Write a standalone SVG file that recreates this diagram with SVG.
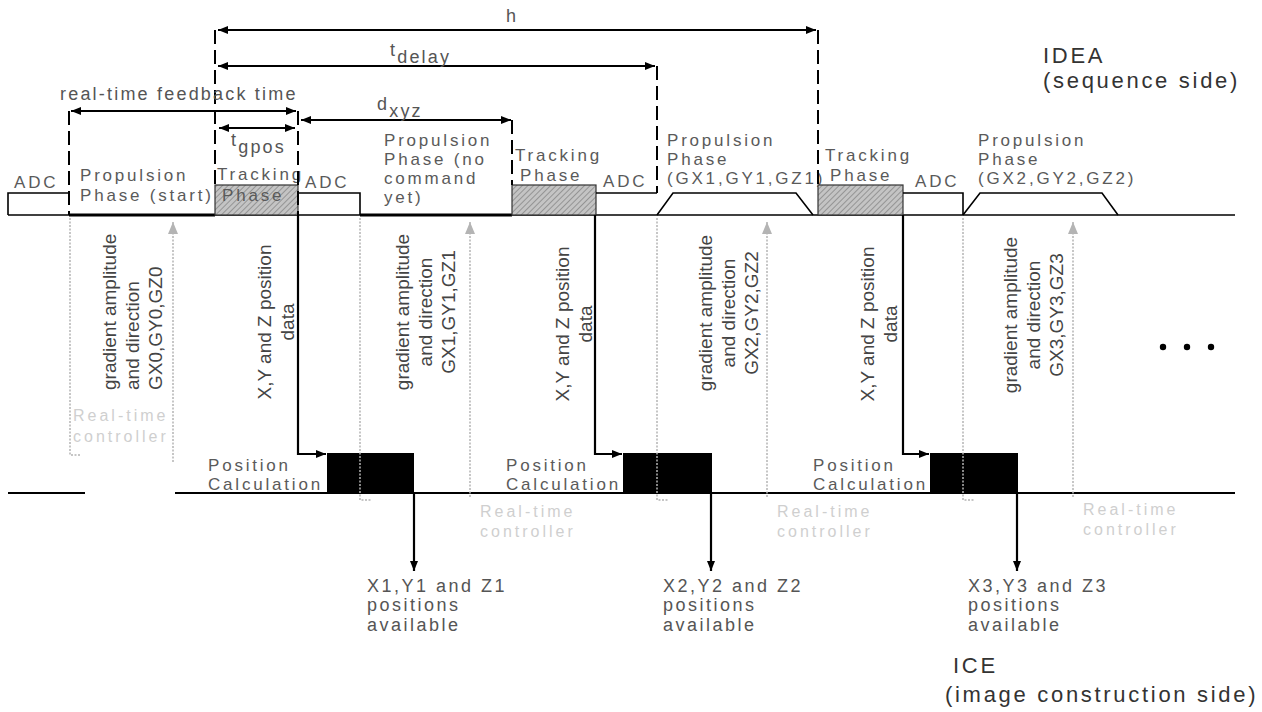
<svg xmlns="http://www.w3.org/2000/svg" width="1262" height="712" viewBox="0 0 1262 712">
<style>
text{font-family:"Liberation Sans",Arial,sans-serif}
.lbl{font-size:17px;letter-spacing:2.8px;fill:#5a5a5a}
.dim{font-size:18px;letter-spacing:2.2px;fill:#555}
.rot{font-size:19px;fill:#444}
.rtc{font-size:16px;letter-spacing:3px;fill:#cfcfcf}
.big{font-size:22px;letter-spacing:2.7px;fill:#333}
.out{font-size:18px;letter-spacing:2.5px;fill:#555}
.ln{stroke:#000;stroke-width:1.6;fill:none}
.dash{stroke:#000;stroke-width:2;stroke-dasharray:14,6;fill:none}
.dimln{stroke:#000;stroke-width:2;fill:none;marker-start:url(#ah);marker-end:url(#ah)}
.grey{stroke:#b4b4b4;stroke-width:1.5;stroke-dasharray:2,1.5;fill:none}
.greyar{stroke:#b4b4b4;stroke-width:1.5;stroke-dasharray:2,1.5;fill:none;marker-end:url(#gah)}
.sol{stroke:#000;stroke-width:2.2;fill:none;marker-end:url(#ah)}
.trk{fill:url(#hatch);stroke:#333;stroke-width:1.2}
.blk{fill:#000}
</style>
<defs>
<marker id="ah" viewBox="0 0 10 8" refX="10" refY="4" markerWidth="10" markerHeight="8" markerUnits="userSpaceOnUse" orient="auto-start-reverse"><path d="M0,0 L10,4 L0,8 z" fill="#000"/></marker>
<marker id="gah" viewBox="0 0 12 10" refX="12" refY="5" markerWidth="12" markerHeight="10" markerUnits="userSpaceOnUse" orient="auto"><path d="M0,0 L12,5 L0,10 z" fill="#b4b4b4"/></marker>
<pattern id="hatch" width="4" height="4" patternUnits="userSpaceOnUse" patternTransform="rotate(45)"><rect width="4" height="4" fill="#c4c4c4"/><line x1="0" y1="0" x2="0" y2="4" stroke="#7a7a7a" stroke-width="1.3"/></pattern>
</defs>
<rect width="1262" height="712" fill="#fff"/>

<g id="timeline-idea">
<line class="ln" x1="8" y1="215" x2="1235" y2="215"/>
<line stroke="#000" stroke-width="3.2" x1="69" y1="215" x2="215" y2="215"/>
<line stroke="#000" stroke-width="3.2" x1="360" y1="215" x2="512" y2="215"/>
</g>
<g id="timeline-ice">
<line stroke="#000" stroke-width="2" x1="8" y1="493" x2="85" y2="493"/>
<line stroke="#000" stroke-width="2" x1="175" y1="493" x2="1235" y2="493"/>
</g>

<g id="adc1"><path class="ln" d="M8,215 V193 H69"/><text class="lbl" x="14" y="188">ADC</text></g>
<g id="propulsion-start"><text class="lbl" x="80" y="181">Propulsion</text><text class="lbl" x="80" y="201">Phase (start)</text></g>
<g id="tracking1"><rect class="trk" x="215" y="185" width="83" height="30"/><text class="lbl" x="217" y="180" letter-spacing="2.2">Tracking</text><text class="lbl" x="222" y="201">Phase</text></g>
<g id="adc2"><path class="ln" d="M298,193 H360 V215"/><text class="lbl" x="305" y="188">ADC</text></g>
<g id="propulsion-nocmd"><text class="lbl" x="384" y="146">Propulsion</text><text class="lbl" x="384" y="165">Phase (no</text><text class="lbl" x="384" y="184">command</text><text class="lbl" x="384" y="203">yet)</text></g>
<g id="tracking2"><rect class="trk" x="512" y="185" width="84" height="30"/><text class="lbl" x="515" y="161">Tracking</text><text class="lbl" x="520" y="181">Phase</text></g>
<g id="adc3"><path class="ln" d="M596,193 H657"/><text class="lbl" x="603" y="187">ADC</text></g>
<g id="propulsion1"><path class="ln" d="M657,215 L673,193 H796 L813,215"/><text class="lbl" x="667" y="146">Propulsion</text><text class="lbl" x="667" y="165">Phase</text><text class="lbl" x="667" y="184" letter-spacing="1.2">(GX1,GY1,GZ1)</text></g>
<g id="tracking3"><rect class="trk" x="818" y="185" width="85" height="30"/><text class="lbl" x="825" y="161">Tracking</text><text class="lbl" x="830" y="181">Phase</text></g>
<g id="adc4"><path class="ln" d="M903,193 H963 V215"/><text class="lbl" x="915" y="187">ADC</text></g>
<g id="propulsion2"><path class="ln" d="M963,215 L980,193 H1102 L1118,215"/><text class="lbl" x="978" y="146">Propulsion</text><text class="lbl" x="978" y="165">Phase</text><text class="lbl" x="978" y="184" letter-spacing="1.6">(GX2,GY2,GZ2)</text></g>

<g id="idea-label"><text class="big" x="1043" y="63">IDEA</text><text class="big" x="1043" y="88">(sequence side)</text></g>
<g id="ice-label"><text class="big" x="953" y="673">ICE</text><text class="big" x="945" y="702">(image construction side)</text></g>

<g id="dimensions">
<path class="dash" d="M69,111 V215"/>
<path class="dash" d="M215,30 V185"/>
<path class="dash" d="M298,111 V215"/>
<path class="dash" d="M512,120 V185"/>
<path class="dash" d="M657,66 V193"/>
<path class="dash" d="M818,30 V185"/>
<line class="dimln" x1="218" y1="30" x2="816" y2="30"/>
<line class="dimln" x1="218" y1="66" x2="655" y2="66"/>
<line class="dimln" x1="71" y1="111" x2="296" y2="111"/>
<line class="dimln" x1="301" y1="120" x2="511" y2="120"/>
<line class="dimln" x1="219" y1="128" x2="295" y2="128"/>
<text class="dim" x="506" y="22" font-size="16">h</text>
<text class="dim" x="390" y="56">t<tspan dy="7">delay</tspan></text>
<text class="dim" x="60" y="100">real-time feedback time</text>
<text class="dim" x="377" y="110">d<tspan dy="7">xyz</tspan></text>
<text class="dim" x="231" y="146">t<tspan dy="7">gpos</tspan></text>
</g>

<g id="position-calc1"><rect class="blk" x="327" y="453" width="87" height="40"/><text class="lbl" x="208" y="471">Position</text><text class="lbl" x="208" y="490">Calculation</text></g>
<g id="position-calc2"><rect class="blk" x="623" y="453" width="89" height="40"/><text class="lbl" x="506" y="471">Position</text><text class="lbl" x="506" y="490">Calculation</text></g>
<g id="position-calc3"><rect class="blk" x="930" y="453" width="88" height="40"/><text class="lbl" x="813" y="471">Position</text><text class="lbl" x="813" y="490">Calculation</text></g>

<g id="connectors">
<path class="sol" d="M298,215 V454 H326"/>
<path class="sol" d="M595,215 V454 H622"/>
<path class="sol" d="M903,215 V454 H929"/>
<path class="sol" d="M414,493 V571"/>
<path class="sol" d="M711,493 V571"/>
<path class="sol" d="M1017,493 V571"/>
<path class="grey" d="M70,218 V455 H80"/>
<path class="grey" d="M360,218 V500 H372"/>
<path class="grey" d="M657,218 V500 H669"/>
<path class="grey" d="M963,218 V500 H975"/>
<path class="greyar" d="M173,462 V222"/>
<path class="greyar" d="M470,497 V222"/>
<path class="greyar" d="M767,497 V222"/>
<path class="greyar" d="M1073,497 V222"/>
</g>

<g id="feedback-labels">
<g transform="translate(116,390) rotate(-90)"><text class="rot" x="0" y="0">gradient amplitude</text><text class="rot" x="0" y="23">and direction</text><text class="rot" x="0" y="46">GX0,GY0,GZ0</text></g>
<g transform="translate(409,312) rotate(-90)" text-anchor="middle"><text class="rot" x="0" y="0">gradient amplitude</text><text class="rot" x="0" y="23">and direction</text><text class="rot" x="0" y="46">GX1,GY1,GZ1</text></g>
<g transform="translate(712,313) rotate(-90)" text-anchor="middle"><text class="rot" x="0" y="0">gradient amplitude</text><text class="rot" x="0" y="23">and direction</text><text class="rot" x="0" y="46">GX2,GY2,GZ2</text></g>
<g transform="translate(1017,315) rotate(-90)" text-anchor="middle"><text class="rot" x="0" y="0">gradient amplitude</text><text class="rot" x="0" y="23">and direction</text><text class="rot" x="0" y="46">GX3,GY3,GZ3</text></g>
<g transform="translate(271,322) rotate(-90)" text-anchor="middle"><text class="rot" x="0" y="0">X,Y and Z position</text><text class="rot" x="0" y="23">data</text></g>
<g transform="translate(569,324) rotate(-90)" text-anchor="middle"><text class="rot" x="0" y="0">X,Y and Z position</text><text class="rot" x="0" y="23">data</text></g>
<g transform="translate(874,324) rotate(-90)" text-anchor="middle"><text class="rot" x="0" y="0">X,Y and Z position</text><text class="rot" x="0" y="23">data</text></g>
<text class="rtc" x="73" y="421">Real-time</text><text class="rtc" x="73" y="442">controller</text>
<text class="rtc" x="480" y="517">Real-time</text><text class="rtc" x="480" y="537">controller</text>
<text class="rtc" x="777" y="517">Real-time</text><text class="rtc" x="777" y="537">controller</text>
<text class="rtc" x="1083" y="515">Real-time</text><text class="rtc" x="1083" y="535">controller</text>
</g>

<g id="output1"><text class="out" x="367" y="592" fill="#444">X1,Y1 and Z1</text><text class="out" x="367" y="611">positions</text><text class="out" x="367" y="631">available</text></g>
<g id="output2"><text class="out" x="663" y="592" fill="#444">X2,Y2 and Z2</text><text class="out" x="663" y="611">positions</text><text class="out" x="663" y="631">available</text></g>
<g id="output3"><text class="out" x="968" y="592" fill="#444">X3,Y3 and Z3</text><text class="out" x="968" y="611">positions</text><text class="out" x="968" y="631">available</text></g>

<g id="ellipsis"><circle cx="1163" cy="347" r="3.2"/><circle cx="1187" cy="347" r="3.2"/><circle cx="1211" cy="347" r="3.2"/></g>
</svg>
